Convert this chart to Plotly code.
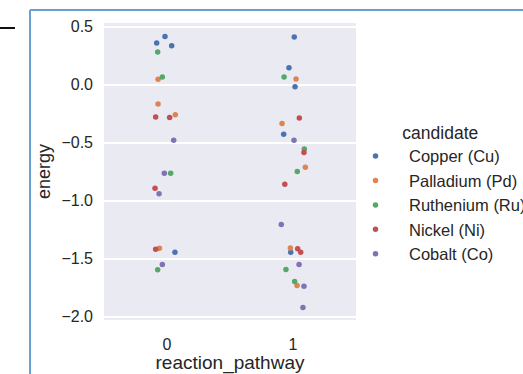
import plotly.graph_objects as go

# Candidate catalysts and their colours (seaborn "deep" palette)
candidates = ["Copper (Cu)", "Palladium (Pd)", "Ruthenium (Ru)", "Nickel (Ni)", "Cobalt (Co)"]
palette = ["#4C72B0", "#DD8452", "#55A868", "#C44E52", "#8172B3"]

# Reaction pathway of every observation (same layout for each candidate)
pathway = [0, 0, 0, 0, 1, 1, 1, 1, 1]

# Energy per observation
energy_cu = [0.416, 0.360, 0.336, -1.446, 0.411, 0.147, -0.017, -0.428, -1.446]
energy_pd = [0.046, -0.166, -0.259, -1.411, 0.049, -0.334, -0.713, -1.408, -1.733]
energy_ru = [0.282, 0.067, -0.764, -1.597, 0.067, -0.554, -0.750, -1.595, -1.698]
energy_ni = [-0.278, -0.284, -0.894, -1.420, -0.287, -0.586, -0.858, -1.416, -1.446]
energy_co = [-0.480, -0.765, -0.940, -1.552, -0.480, -1.207, -1.552, -1.739, -1.922]

# Horizontal strip-plot jitter of every observation
jitter_cu = [-0.016, -0.082, 0.037, 0.063, 0.010, -0.032, 0.016, -0.074, -0.018]
jitter_pd = [-0.071, -0.071, 0.066, -0.060, 0.024, -0.087, 0.098, -0.021, 0.032]
jitter_ru = [-0.074, -0.037, 0.029, -0.074, -0.071, 0.090, 0.034, -0.056, 0.013]
jitter_ni = [-0.090, 0.021, -0.095, -0.090, 0.050, 0.087, -0.065, 0.037, 0.061]
jitter_co = [0.053, -0.021, -0.063, -0.037, 0.008, -0.093, 0.048, 0.087, 0.079]

energies = [energy_cu, energy_pd, energy_ru, energy_ni, energy_co]
jitters = [jitter_cu, jitter_pd, jitter_ru, jitter_ni, jitter_co]

FONT = "Liberation Sans, Arial, sans-serif"
TEXT = "#262626"

fig = go.Figure()
for name, color, ys, js in zip(candidates, palette, energies, jitters):
    fig.add_trace(go.Scatter(
        x=[p + j for p, j in zip(pathway, js)],
        y=ys,
        mode="markers",
        name=name,
        marker=dict(color=color, size=5.5, line=dict(width=0)),
    ))

W, H = 523, 374
ml, mr, mt, mb = 104, 167, 23, 54
pw, ph = W - ml - mr, H - mt - mb


def px_x(v):
    return (v - ml) / pw


def px_y(v):
    return 1 - (v - mt) / ph


fig.update_layout(
    width=W, height=H,
    margin=dict(l=ml, r=mr, t=mt, b=mb, autoexpand=False),
    paper_bgcolor="white",
    plot_bgcolor="#EAEAF2",
    font=dict(family=FONT, color=TEXT, size=16),
    xaxis=dict(
        range=[-0.5, 1.5],
        tickvals=[0, 1],
        ticktext=["0", "1"],
        showgrid=False, zeroline=False, showline=False,
        ticks="", ticklabelstandoff=13,
        tickfont=dict(size=16, color=TEXT),
        title=dict(text="reaction_pathway", font=dict(size=19, color=TEXT), standoff=0),
    ),
    yaxis=dict(
        range=[-2.03, 0.532],
        tickvals=[0.5, 0.0, -0.5, -1.0, -1.5, -2.0],
        ticktext=["0.5", "0.0", "\u22120.5", "\u22121.0", "\u22121.5", "\u22122.0"],
        showgrid=True, gridcolor="white", gridwidth=1.5,
        zeroline=False, showline=False,
        ticks="", ticklabelstandoff=10,
        tickfont=dict(size=16, color=TEXT),
        title=dict(text="energy", font=dict(size=18, color=TEXT), standoff=6),
    ),
    legend=dict(
        title=dict(text="\u00a0" * 12 + "candidate", font=dict(size=17.5, color=TEXT)),
        font=dict(size=16.5, color=TEXT),
        x=px_x(342), xanchor="left",
        y=px_y(116), yanchor="top",
        bgcolor="rgba(0,0,0,0)",
        itemwidth=57,
        tracegroupgap=0,
    ),
    showlegend=True,
)

# Window frame around the figure and the small dash at top-left
frame = "#6A9FD0"
fig.add_shape(type="line", xref="paper", yref="paper",
              x0=px_x(30), x1=px_x(30), y0=px_y(10), y1=px_y(380),
              line=dict(color=frame, width=2))
fig.add_shape(type="line", xref="paper", yref="paper",
              x0=px_x(30), x1=px_x(530), y0=px_y(10), y1=px_y(10),
              line=dict(color=frame, width=2))
fig.add_shape(type="line", xref="paper", yref="paper",
              x0=px_x(0), x1=px_x(15), y0=px_y(28), y1=px_y(28),
              line=dict(color="#111111", width=2))

fig.write_html("out.html")
